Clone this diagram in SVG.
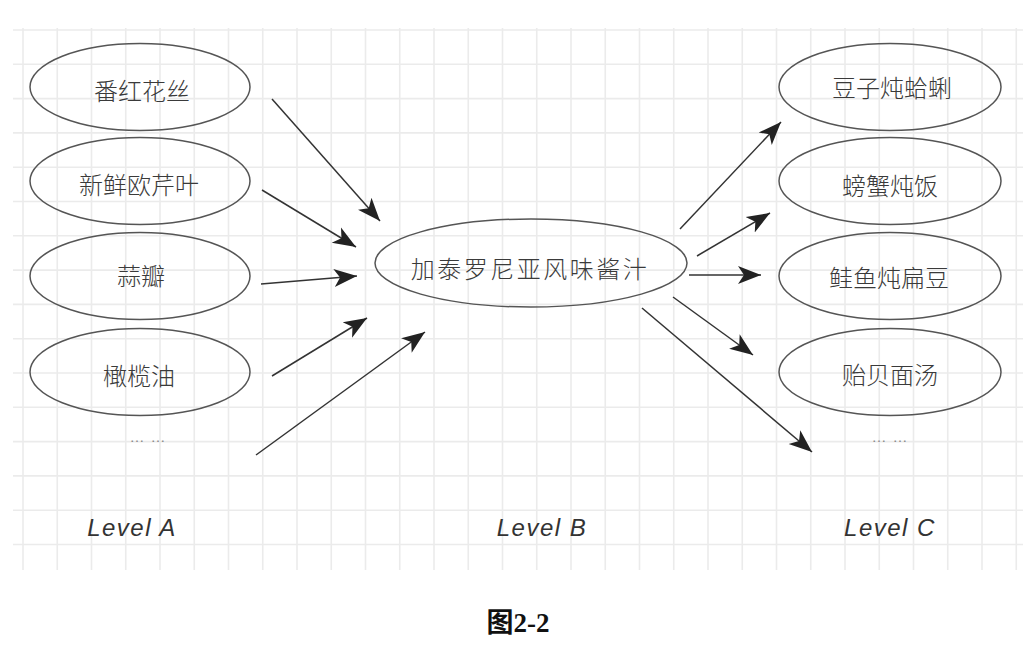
<svg xmlns="http://www.w3.org/2000/svg" width="1034" height="660" viewBox="0 0 1034 660">
<style>
.grid{stroke:#ebebeb;stroke-width:1.6;fill:none}
.node{fill:none;stroke:#555;stroke-width:1.5}
.lbl{font-family:"Noto Sans CJK SC","Noto Sans CJK JP",sans-serif;font-weight:300;font-size:24px;fill:#3a3a3a;text-anchor:middle}
.dots{font-family:"Liberation Sans",sans-serif;font-size:15px;fill:#888;text-anchor:middle;letter-spacing:1px}
.lvl{font-family:"Liberation Sans",sans-serif;font-size:24px;fill:#333;text-anchor:middle;letter-spacing:1.5px;font-style:italic}
.cap{font-family:"Liberation Serif",serif;font-weight:bold;font-size:27px;fill:#111;text-anchor:middle}
.capz{font-family:"Noto Sans CJK SC",sans-serif;font-weight:bold}
.edge{stroke:#333;stroke-width:1.5;fill:none;marker-end:url(#ah)}
</style>
<defs>
<marker id="ah" markerUnits="userSpaceOnUse" markerWidth="26" markerHeight="22" refX="23" refY="11" orient="auto">
<path d="M0,2 L23,11 L0,20 L6,11 Z" fill="#222"/>
</marker>
</defs>
<rect width="1034" height="660" fill="#fff"/>
<g id="grid">
<path class="grid" d="M23,28V570M57.25,28V570M91.5,28V570M125.75,28V570M160,28V570M194.25,28V570M228.5,28V570M262.75,28V570M297,28V570M331.25,28V570M365.5,28V570M399.75,28V570M434,28V570M468.25,28V570M502.5,28V570M536.75,28V570M571,28V570M605.25,28V570M639.5,28V570M673.75,28V570M708,28V570M742.25,28V570M776.5,28V570M810.75,28V570M845,28V570M879.25,28V570M913.5,28V570M947.75,28V570M982,28V570M1016.25,28V570"/>
<path class="grid" d="M13,30H1023M13,64.3H1023M13,98.6H1023M13,132.9H1023M13,167.2H1023M13,201.5H1023M13,235.8H1023M13,270.1H1023M13,304.4H1023M13,338.7H1023M13,373H1023M13,407.3H1023M13,441.6H1023M13,475.9H1023M13,510.2H1023M13,544.5H1023"/>
</g>
<g id="connectors">
<path class="edge" d="M272,99L380,221"/>
<path class="edge" d="M262,190L356,247"/>
<path class="edge" d="M261,284L357,276"/>
<path class="edge" d="M272,376L367,318"/>
<path class="edge" d="M256,455L425,332"/>
<path class="edge" d="M680,229L781,122"/>
<path class="edge" d="M697,256L770,213"/>
<path class="edge" d="M689,275L761,275"/>
<path class="edge" d="M673,297L753,355"/>
<path class="edge" d="M642,308L812,452"/>
</g>
<g id="a1"><ellipse class="node" cx="140" cy="87" rx="110" ry="43.5"/><text class="lbl" x="142" y="100">番红花丝</text></g>
<g id="a2"><ellipse class="node" cx="140" cy="181" rx="110" ry="43.5"/><text class="lbl" x="139" y="194">新鲜欧芹叶</text></g>
<g id="a3"><ellipse class="node" cx="140" cy="276" rx="110" ry="43.5"/><text class="lbl" x="141" y="285">蒜瓣</text></g>
<g id="a4"><ellipse class="node" cx="140" cy="372" rx="110" ry="43.5"/><text class="lbl" x="139" y="385">橄榄油</text></g>
<g id="a5"><text class="dots" x="148" y="442">… …</text></g>
<g id="b1"><ellipse class="node" cx="531" cy="263" rx="156" ry="44"/><text class="lbl" x="530" y="278" style="letter-spacing:2.5px">加泰罗尼亚风味酱汁</text></g>
<g id="c1"><ellipse class="node" cx="890" cy="87" rx="111" ry="43.5"/><text class="lbl" x="892" y="97">豆子炖蛤蜊</text></g>
<g id="c2"><ellipse class="node" cx="890" cy="181" rx="111" ry="43.5"/><text class="lbl" x="890" y="195">螃蟹炖饭</text></g>
<g id="c3"><ellipse class="node" cx="890" cy="276" rx="111" ry="43.5"/><text class="lbl" x="889" y="287">鲑鱼炖扁豆</text></g>
<g id="c4"><ellipse class="node" cx="890" cy="372" rx="111" ry="43.5"/><text class="lbl" x="890" y="384">贻贝面汤</text></g>
<g id="c5"><text class="dots" x="890" y="442">… …</text></g>
<g id="levels">
<text class="lvl" x="132" y="536">Level A</text>
<text class="lvl" x="542" y="536">Level B</text>
<text class="lvl" x="890" y="536">Level C</text>
</g>
<text class="cap" x="518" y="632"><tspan class="capz">图</tspan>2-2</text>
</svg>
